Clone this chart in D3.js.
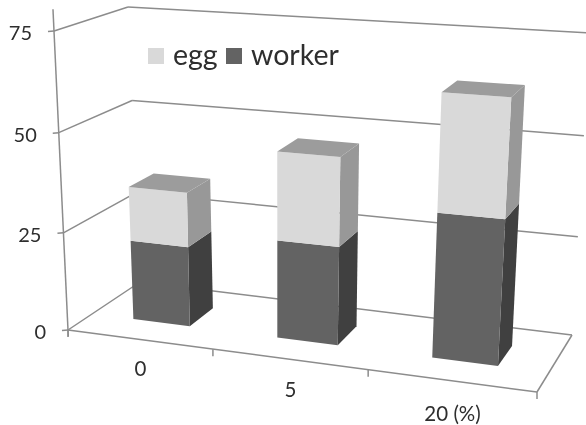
<!DOCTYPE html>
<html>
<head>
<meta charset="utf-8">
<script src="https://cdn.jsdelivr.net/npm/d3@7"></script>
<style>
  html, body { margin: 0; padding: 0; background: #fff; }
  #chart { width: 586px; height: 425px; overflow: hidden; }
  text { font-family: Lato, "Open Sans", sans-serif; fill: #2e2e2e; }
</style>
</head>
<body>
<div id="chart"></div>
<script>
// values
const categories = ['0', '5', '20 (%)'];
const worker = [20.5, 24.7, 35.4];
const egg = [13.8, 22, 28.6];
const yTicks = [0, 25, 50, 75];
const legendNames = ['egg', 'worker'];

const width = 586, height = 425;
const cEgg = { front: '#d9d9d9', side: '#989898', top: '#9c9c9c' };
const cWorker = { front: '#636363', side: '#404040' };
const lineColor = '#8c8c8c';

// box corners on screen: [front-left, front-right, back-left, back-right]
const floorPts = [[68, 330], [537, 392], [140, 282], [572, 335]];
const roofPts = [[54, 31], [557, 64], [128, 7], [590, 33]];

// value -> height in box, a bit squeezed towards the floor like the picture
const yScale = d3.scaleLinear().domain(yTicks).range([0, 0.325, 0.66, 1]);
// category edges along the floor, perspective makes the far ones wider
const xScale = d3.scaleLinear().domain([0, 1, 2, 3]).range([0, 0.309, 0.64, 1]);

function corner(pts, u, w) {
  const front = d3.interpolate(pts[0], pts[1])(u);
  const back = d3.interpolate(pts[2], pts[3])(u);
  return d3.interpolate(front, back)(w);
}

// u along x, v up the wall, w into the depth
function project(u, v, w) {
  const a = corner(floorPts, u, w);
  const b = corner(roofPts, u, w);
  return [a[0] + (b[0] - a[0]) * v, a[1] + (b[1] - a[1]) * v];
}

const svg = d3.select('#chart').append('svg')
  .attr('width', width)
  .attr('height', height)
  .style('filter', 'blur(0.45px)');

const line = d3.line();

function segment(p, q) {
  svg.append('path')
    .attr('d', line([p, q]))
    .attr('fill', 'none')
    .attr('stroke', lineColor)
    .attr('stroke-width', 1.5);
}

// gridlines on side wall and back wall, 0 line is the floor edge
yTicks.forEach(function (t) {
  const v = yScale(t);
  segment(project(0, v, 0), project(0, v, 1));
  segment(project(0, v, 1), project(1, v, 1));
  // small tick left of the axis
  const p = project(0, v, 0);
  segment([p[0] - 6, p[1] + 0.5], p);
  svg.append('text')
    .attr('x', p[0] - 22)
    .attr('y', p[1] + 1)
    .attr('text-anchor', 'end')
    .attr('dominant-baseline', 'central')
    .attr('font-size', 20)
    .text(t);
});

// vertical axis, runs a little past both ends
segment(project(0, -0.022, 0), project(0, 1.073, 0));

// floor
segment(project(0, 0, 0), project(1, 0, 0));
segment(project(1, 0, 0), project(1, 0, 1));
d3.range(0, 4).forEach(function (i) {
  const p = project(xScale(i), 0, 0);
  segment(p, [p[0], p[1] + 7]);
});

// category labels
categories.forEach(function (c, i) {
  const u = xScale(i + 0.5);
  const p = project(u, 0, 0);
  svg.append('text')
    .attr('x', p[0])
    .attr('y', p[1] + 27 + u * 6)
    .attr('text-anchor', 'middle')
    .attr('dominant-baseline', 'central')
    .attr('font-size', 20.5)
    .text(c);
});

// bars, depth range of the boxes
const w0 = 0.34, w1 = 0.70;

function face(pts, color) {
  svg.append('path')
    .attr('d', line(pts) + 'Z')
    .attr('fill', color);
}

function block(u0, u1, v0, v1, colors) {
  // right side
  face([project(u1, v0, w0), project(u1, v0, w1), project(u1, v1, w1), project(u1, v1, w0)], colors.side);
  // front
  face([project(u0, v0, w0), project(u1, v0, w0), project(u1, v1, w0), project(u0, v1, w0)], colors.front);
  if (colors.top) {
    face([project(u0, v1, w0), project(u1, v1, w0), project(u1, v1, w1), project(u0, v1, w1)], colors.top);
  }
}

categories.forEach(function (c, i) {
  const u0 = xScale(i + 0.29), u1 = xScale(i + 0.69);
  block(u0, u1, yScale(0), yScale(worker[i]), cWorker);
  block(u0, u1, yScale(worker[i]), yScale(worker[i] + egg[i]), cEgg);
});

// legend
const legendX = [148, 226];
const legendColors = [cEgg.front, cWorker.front];
legendNames.forEach(function (name, i) {
  svg.append('rect')
    .attr('x', legendX[i])
    .attr('y', 48)
    .attr('width', 16)
    .attr('height', 16)
    .attr('fill', legendColors[i]);
  svg.append('text')
    .attr('x', legendX[i] + 25)
    .attr('y', 65)
    .attr('font-size', 28.5)
    .text(name);
});
</script>
</body>
</html>
